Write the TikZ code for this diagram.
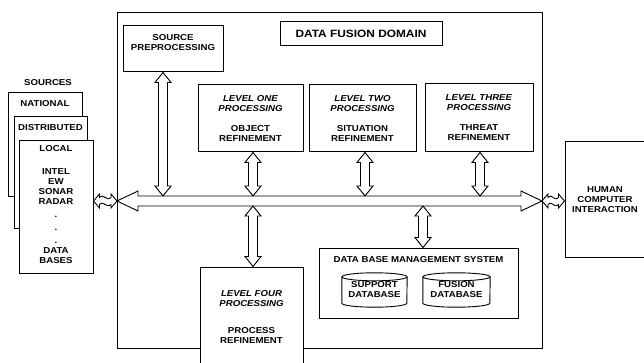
\documentclass[tikz,border=0pt]{standalone}
\usepackage{fontspec}
\newfontfamily\dfont{Liberation Sans}[FakeStretch=1.12]
\usetikzlibrary{calc}
\newcommand\vfat[2]{%
  \draw[fat] (#1) -- ($(#1)+(8,10)$) -- ($(#1)+(4.5,10)$) -- ($(#2)+(4.5,-10)$) -- ($(#2)+(8,-10)$) -- (#2)
    -- ($(#2)+(-8,-10)$) -- ($(#2)+(-4.5,-10)$) -- ($(#1)+(-4.5,10)$) -- ($(#1)+(-8,10)$) -- cycle;}
\newcommand\wfat[2]{%
  \draw[fat] (#1) -- ($(#1)+(6,-7)$) -- ($(#1)+(6,-3.5)$) .. controls ($(#1)+(11,-8)$) and ($(#2)+(-11,1)$) .. ($(#2)+(-6,-3.5)$)
    -- ($(#2)+(-6,-7)$) -- (#2) -- ($(#2)+(-6,7)$) -- ($(#2)+(-6,3.5)$) .. controls ($(#2)+(-11,8)$) and ($(#1)+(11,-1)$) .. ($(#1)+(6,3.5)$)
    -- ($(#1)+(6,7)$) -- cycle;}
\newcommand\cyl[2]{%
  \draw[line width=0.9pt] ($(#1.north)+(0,4)$) ellipse [x radius=#2, y radius=4];
  \draw[line width=0.9pt] ($(#1.north west)+(0,4)$) -- ($(#1.south west)+(0,-4)$)
    arc[start angle=180, end angle=0, x radius=#2, y radius=4] -- ($(#1.north east)+(0,4)$);}
\begin{document}
\begin{tikzpicture}[x=1pt,y=-1pt,
  txt/.style={font=\dfont\bfseries\fontsize{8.6}{10}\selectfont, align=center, inner sep=0pt},
  box/.style={draw, line width=1pt, fill=white, inner sep=0pt, txt},
  frame/.style={draw, line width=1pt, inner sep=0pt},
  fat/.style={draw, line width=0.9pt, fill=white, line join=miter}]
\useasboundingbox (0,0) rectangle (644,363);
\clip (0,0) rectangle (644,363);

% domain frame
\node[frame, minimum width=425, minimum height=335] (dom) at (329.5,180.5) {};
\node[box, minimum width=162, minimum height=24, font=\dfont\bfseries\fontsize{10.6}{12}\selectfont] (title) at (361,34) {DATA FUSION DOMAIN};
\node[box, minimum width=100, minimum height=46] (src) at (173,49) {SOURCE\\PREPROCESSING\\[3pt]};

\node[box, minimum width=105, minimum height=67] (l1) at (250.5,118.5) {\textit{LEVEL ONE}\\\textit{PROCESSING}\\[10pt]OBJECT\\REFINEMENT};
\node[box, minimum width=107, minimum height=67] (l2) at (362.5,118.5) {\textit{LEVEL TWO}\\\textit{PROCESSING}\\[10pt]SITUATION\\REFINEMENT};
\node[box, minimum width=108, minimum height=68] (l3) at (479,118) {\textit{LEVEL THREE}\\\textit{PROCESSING}\\[10pt]THREAT\\REFINEMENT};

% bus
\coordinate (busL) at (117,201);
\coordinate (busR) at (542,201);
\coordinate (busT) at (0,196);
\coordinate (busB) at (0,206);
\draw[fat] (busL) -- ($(busL)+(21,-10)$) -- ($(busL)+(21,-5)$) -- ($(busR)+(-21,-5)$) -- ($(busR)+(-21,-10)$) -- (busR)
  -- ($(busR)+(-21,10)$) -- ($(busR)+(-21,5)$) -- ($(busL)+(21,5)$) -- ($(busL)+(21,10)$) -- cycle;

% level four and dbms
\node[box, minimum width=103, minimum height=100] (l4) at (251.5,317) {\textit{LEVEL FOUR}\\\textit{PROCESSING}\\[17pt]PROCESS\\REFINEMENT};
\node[box, minimum width=199, minimum height=70] (dbms) at (418.5,283) {};
\node[txt] (dbt) at ($(dbms.north)+(0,12)$) {DATA BASE MANAGEMENT SYSTEM};
\node[txt, minimum width=65, minimum height=34] (sup) at (374.5,290) {SUPPORT\\DATABASE};
\node[txt, minimum width=67, minimum height=34] (fus) at (456.5,290) {FUSION\\DATABASE};
\cyl{sup}{32.5}
\cyl{fus}{33.5}

% vertical connectors
\coordinate (srcA) at ($(src.south)+(-10,0)$);
\vfat{srcA}{srcA |- busT}
\coordinate (l1A) at ($(l1.south)+(2.5,0)$);
\vfat{l1A}{l1A |- busT}
\coordinate (l2A) at ($(l2.south)+(2.5,0)$);
\vfat{l2A}{l2A |- busT}
\coordinate (l3A) at ($(l3.south)+(1,0)$);
\vfat{l3A}{l3A |- busT}
\coordinate (l4A) at ($(l4.north)+(1.5,0)$);
\vfat{l4A |- busB}{l4A}
\coordinate (dbA) at ($(dbms.north)+(4.5,0)$);
\vfat{dbA |- busB}{dbA}

% sources
\node[txt] (srct) at (48,83) {SOURCES};
\node[box, minimum width=74, minimum height=104] (nat) at (45,145) {};
\node[txt] (natt) at ($(nat.north)+(0,11)$) {NATIONAL};
\node[box, minimum width=73, minimum height=111] (dis) at (50.5,172.5) {};
\node[txt] (dist) at ($(dis.north)+(0,11)$) {DISTRIBUTED};
\node[box, minimum width=74, minimum height=132] (loc) at (56,207) {};
\node[txt] (loct) at ($(loc.north)+(0,8)$) {LOCAL};
\node[txt, anchor=north] (locl) at (56,168) {INTEL\\EW\\SONAR\\RADAR\\[3pt].\\[3pt].\\[3pt].\\DATA\\BASES};

% human computer interaction
\node[box, minimum width=100, minimum height=115] (hci) at (615,199.5) {};
\node[txt] (hcit) at (605,200) {HUMAN\\COMPUTER\\INTERACTION};

% wavy connectors
\coordinate (wl1) at (loc.east |- busL);
\coordinate (wl2) at (busL);
\wfat{wl1}{wl2}
\coordinate (wr1) at (busR);
\coordinate (wr2) at (hci.west |- busR);
\wfat{wr1}{wr2}
\end{tikzpicture}
\end{document}
